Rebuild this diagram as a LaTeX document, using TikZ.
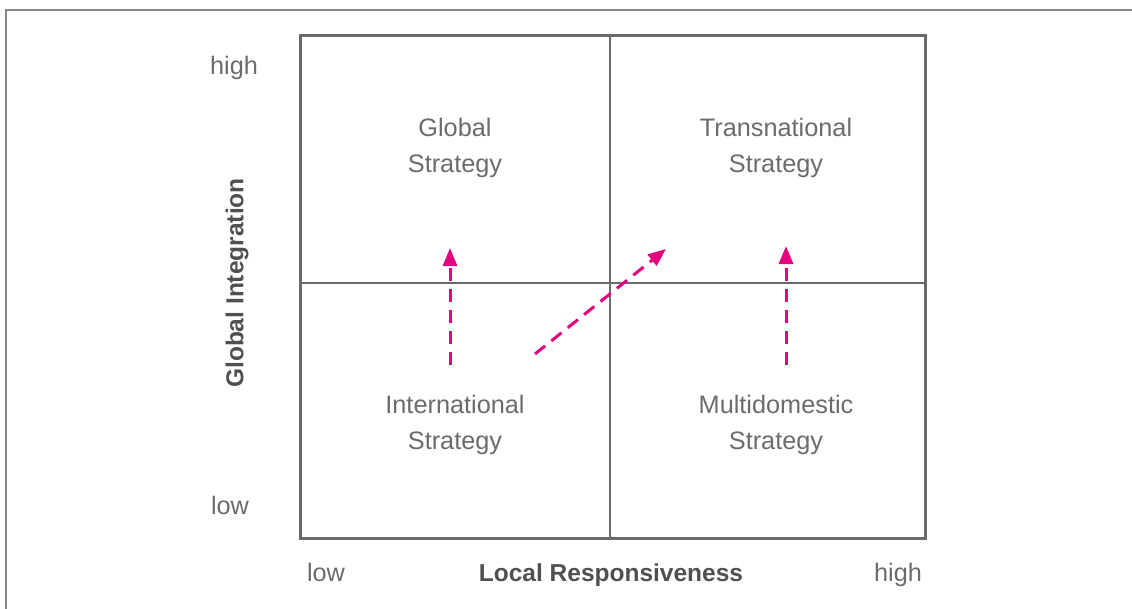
\documentclass[tikz,border=0pt]{standalone}
\usepackage{fontspec}
\setmainfont{Liberation Sans}
\usetikzlibrary{arrows.meta}
\definecolor{frame}{HTML}{6A6A6A}
\definecolor{txt}{HTML}{6B6B6B}
\definecolor{axis}{HTML}{505050}
\definecolor{magenta}{HTML}{E5007E}
\begin{document}
\begin{tikzpicture}[x=1pt,y=-1pt,
  lbl/.style={text=txt,font=\fontsize{25.3}{36}\selectfont,align=center,inner sep=0pt},
  axtitle/.style={text=axis,font=\fontsize{24.5}{28}\selectfont\bfseries,inner sep=0pt},
  move/.style={draw=magenta,line width=3pt,dash pattern=on 13pt off 8pt,
    -{Triangle[length=18pt,width=14pt]}}]
  \useasboundingbox (0,0) rectangle (1132,608);
  % outer frame
  \begin{scope}
    \clip (0,0) rectangle (1132,608);
    \draw[frame!80,line width=1.2pt] (6,10) rectangle (1140,620);
  \end{scope}
  % quadrant dividers and matrix box
  \coordinate (tl) at (300,35);
  \coordinate (br) at (925,538);
  \draw[frame,line width=1.4pt] (610,35) -- (610,538);
  \draw[frame,line width=1.4pt] (300,283) -- (925,283);
  \draw[frame,line width=3pt] (tl) rectangle (br);
  % quadrant labels
  \node[lbl] (glob) at (455,148) {Global\\Strategy};
  \node[lbl] (trans) at (776,148) {Transnational\\Strategy};
  \node[lbl] (intl) at (455,425) {International\\Strategy};
  \node[lbl] (multi) at (776,425) {Multidomestic\\Strategy};
  % axis labels
  \node[lbl,anchor=base] (yhi) at (234,74) {high};
  \node[lbl,anchor=base] (ylo) at (230,514) {low};
  \node[lbl,anchor=base] (xlo) at (326,581) {low};
  \node[lbl,anchor=base] (xhi) at (898,581) {high};
  \node[axtitle,anchor=base] (xtitle) at (611,581) {Local Responsiveness};
  \node[axtitle,rotate=90] (ytitle) at (237,283) {Global Integration};
  % strategy moves
  \coordinate (a1s) at (450,365); \coordinate (a1e) at (450,248);
  \coordinate (a2s) at (535,354); \coordinate (a2e) at (666,249);
  \coordinate (a3s) at (786,365); \coordinate (a3e) at (786,246);
  \draw[move] (a1s) -- (a1e);
  \draw[move] (a2s) -- (a2e);
  \draw[move] (a3s) -- (a3e);
\end{tikzpicture}
\end{document}
